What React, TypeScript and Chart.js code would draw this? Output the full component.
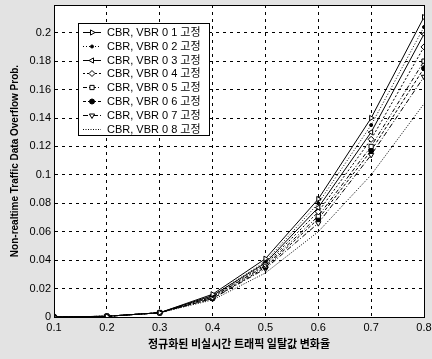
import React, { useEffect, useRef } from 'react';
import { Chart, registerables } from 'chart.js';
import { drawPoint } from 'chart.js/helpers';

Chart.register(...registerables);

const xValues = [0.1, 0.2, 0.3, 0.4, 0.5, 0.6, 0.7, 0.8];
const vbr01 = [0, 0.0005, 0.003, 0.016, 0.041, 0.083, 0.140, 0.211];
const vbr02 = [0, 0.0005, 0.003, 0.015, 0.039, 0.080, 0.135, 0.204];
const vbr03 = [0, 0.0005, 0.003, 0.015, 0.038, 0.077, 0.130, 0.199];
const vbr04 = [0, 0.0005, 0.003, 0.014, 0.037, 0.074, 0.125, 0.190];
const vbr05 = [0, 0.0005, 0.003, 0.014, 0.036, 0.071, 0.120, 0.180];
const vbr06 = [0, 0.0005, 0.003, 0.013, 0.035, 0.069, 0.117, 0.175];
const vbr07 = [0, 0.0005, 0.003, 0.013, 0.034, 0.066, 0.114, 0.169];
const vbr08 = [0, 0.0005, 0.003, 0.012, 0.031, 0.060, 0.100, 0.150];

const seriesLabels = [
  'CBR, VBR 0 1 고정',
  'CBR, VBR 0 2 고정',
  'CBR, VBR 0 3 고정',
  'CBR, VBR 0 4 고정',
  'CBR, VBR 0 5 고정',
  'CBR, VBR 0 6 고정',
  'CBR, VBR 0 7 고정',
  'CBR, VBR 0 8 고정',
];
const seriesValues = [vbr01, vbr02, vbr03, vbr04, vbr05, vbr06, vbr07, vbr08];

const styles = [
  { dash: [], point: 'triangle', rot: 90, fill: '#ffffff', r: 3 },
  { dash: [1, 2], point: 'circle', rot: 0, fill: '#000000', r: 1.5 },
  { dash: [], point: 'triangle', rot: -90, fill: '#ffffff', r: 3 },
  { dash: [2, 2], point: 'rectRot', rot: 0, fill: '#ffffff', r: 3 },
  { dash: [4, 2, 1, 2], point: 'rect', rot: 0, fill: '#ffffff', r: 3 },
  { dash: [3, 2], point: 'circle', rot: 0, fill: '#000000', r: 2.5 },
  { dash: [5, 2, 1, 2], point: 'triangle', rot: 180, fill: '#ffffff', r: 3 },
  { dash: [1, 1.5], point: false as any, rot: 0, fill: '#ffffff', r: 0 },
];

const FONT = '"Liberation Sans", Arial, "Noto Sans CJK KR", sans-serif';

const framePlugin = {
  id: 'framePlugin',
  beforeDraw(chart: any) {
    const { ctx, width, height, chartArea } = chart;
    const { left, top, right, bottom } = chartArea;
    ctx.save();
    ctx.fillStyle = '#e3e3e3';
    ctx.fillRect(0, 0, width, height);
    ctx.fillStyle = '#ffffff';
    ctx.fillRect(left, top, right - left, bottom - top);
    ctx.restore();
  },
  afterDraw(chart: any) {
    const { ctx, chartArea } = chart;
    const { left, top, right, bottom } = chartArea;
    ctx.save();
    ctx.strokeStyle = '#000';
    ctx.lineWidth = 1;
    ctx.setLineDash([]);
    ctx.strokeRect(Math.round(left) + 0.5, Math.round(top) + 0.5, Math.round(right - left), Math.round(bottom - top));

    // legend
    const bx = 78, by = 23, bw = 131, bh = 112;
    ctx.fillStyle = '#fff';
    ctx.fillRect(bx, by, bw, bh);
    ctx.strokeRect(bx + 0.5, by + 0.5, bw, bh);
    ctx.font = '11px ' + FONT;
    ctx.textBaseline = 'middle';
    ctx.textAlign = 'left';
    for (let i = 0; i < seriesLabels.length; i++) {
      const y = Math.round(by + 9 + i * 13.8) + 0.5;
      const st = styles[i];
      ctx.strokeStyle = '#000';
      ctx.lineWidth = 1;
      ctx.setLineDash(st.dash);
      ctx.beginPath();
      ctx.moveTo(83, y);
      ctx.lineTo(101, y);
      ctx.stroke();
      ctx.setLineDash([]);
      if (st.point) {
        ctx.fillStyle = st.fill;
        ctx.strokeStyle = '#000';
        drawPoint(ctx, { pointStyle: st.point, rotation: st.rot, radius: st.r, borderWidth: 1 } as any, 92, y);
      }
      ctx.fillStyle = '#000';
      ctx.fillText(seriesLabels[i], 107, y);
    }
    ctx.restore();
  },
};

export default function App() {
  const ref = useRef<HTMLCanvasElement | null>(null);
  useEffect(() => {
    document.body.style.margin = '0';
    const canvas = ref.current;
    if (!canvas) return;
    const datasets = seriesValues.map((vals, i) => ({
      label: seriesLabels[i],
      data: xValues.map((x, j) => ({ x, y: vals[j] })),
      borderColor: '#000',
      backgroundColor: styles[i].fill,
      borderWidth: 1,
      borderDash: styles[i].dash,
      pointStyle: styles[i].point,
      pointRotation: styles[i].rot,
      pointRadius: styles[i].r,
      pointBorderColor: '#000',
      pointBackgroundColor: styles[i].fill,
      pointBorderWidth: 1,
      tension: 0,
      fill: false,
    }));
    const chart = new Chart(canvas, {
      type: 'line',
      data: { datasets },
      plugins: [framePlugin],
      options: {
        animation: false,
        responsive: false,
        maintainAspectRatio: false,
        layout: { padding: { left: 0, right: 8, top: 5, bottom: 0 } },
        plugins: { legend: { display: false }, tooltip: { enabled: false } },
        scales: {
          x: {
            type: 'linear',
            min: 0.1,
            max: 0.8,
            grid: { color: '#000', lineWidth: 1, drawTicks: false },
            border: { display: true, color: '#000', dash: [3, 4] },
            ticks: {
              stepSize: 0.1,
              padding: 4,
              color: '#000',
              font: { family: FONT, size: 11 },
              callback: (v: any) => Number(v).toFixed(1),
              maxRotation: 0,
              autoSkip: false,
            },
            title: {
              display: true,
              text: '정규화된 비실시간 트래픽 일탈값 변화율',
              color: '#000',
              font: { family: '"Noto Sans CJK KR", sans-serif', size: 11, weight: 'bold' },
              padding: { top: 0, bottom: 9 },
            },
            afterFit: (s: any) => {
              s.height = 42;
              s.paddingLeft = 0;
              s.paddingRight = 0;
            },
          },
          y: {
            type: 'linear',
            min: 0,
            max: 0.2195,
            grid: { color: '#000', lineWidth: 1, drawTicks: false },
            border: { display: true, color: '#000', dash: [3, 4] },
            ticks: {
              stepSize: 0.02,
              includeBounds: false,
              padding: 3,
              color: '#000',
              font: { family: FONT, size: 11 },
              callback: (v: any) => String(Number(Number(v).toFixed(2))),
            },
            title: {
              display: true,
              text: 'Non-realtime Traffic Data Overflow Prob.',
              color: '#000',
              font: { family: FONT, size: 10, weight: 'bold' },
              padding: { top: 9, bottom: 0 },
            },
            afterFit: (s: any) => {
              s.width = 54;
              s.paddingTop = 0;
              s.paddingBottom = 0;
            },
          },
        },
      } as any,
    });
    return () => chart.destroy();
  }, []);
  return (
    <div style={{ position: 'absolute', left: 0, top: 0, width: 432, height: 359 }}>
      <canvas ref={ref} width={432} height={359} style={{ display: 'block' }} />
    </div>
  );
}
